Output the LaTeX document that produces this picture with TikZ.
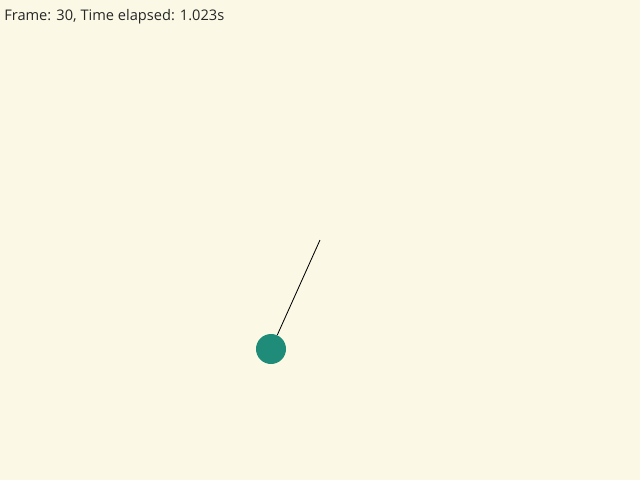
\documentclass[tikz,border=0pt]{standalone}
\usepackage{fontspec}
\setmainfont{Open Sans}
\usetikzlibrary{positioning}
\definecolor{paper}{HTML}{FBF9E6}
\definecolor{bobgreen}{HTML}{1E8C78}

\begin{document}
\begin{tikzpicture}[x=0.025cm, y=-0.025cm, bob/.style={circle, fill=bobgreen, inner sep=0pt, minimum size=0.75cm}, rod/.style={black, line width=0.6pt}, info/.style={anchor=base west, inner sep=0pt, font=\fontsize{10.4}{12}\selectfont, text=black!85}]

\fill[paper] (0,0) rectangle (640,480);
\useasboundingbox (0,0) rectangle (640,480);
\node[info] (frame) at (4,20) {Frame: 30, Time elapsed: 1.023s};
\coordinate (pivot) at (320,240);
\node[bob] (ball) at (271,349) {};
\draw[rod] (pivot)--(ball);

\end{tikzpicture}
\end{document}
